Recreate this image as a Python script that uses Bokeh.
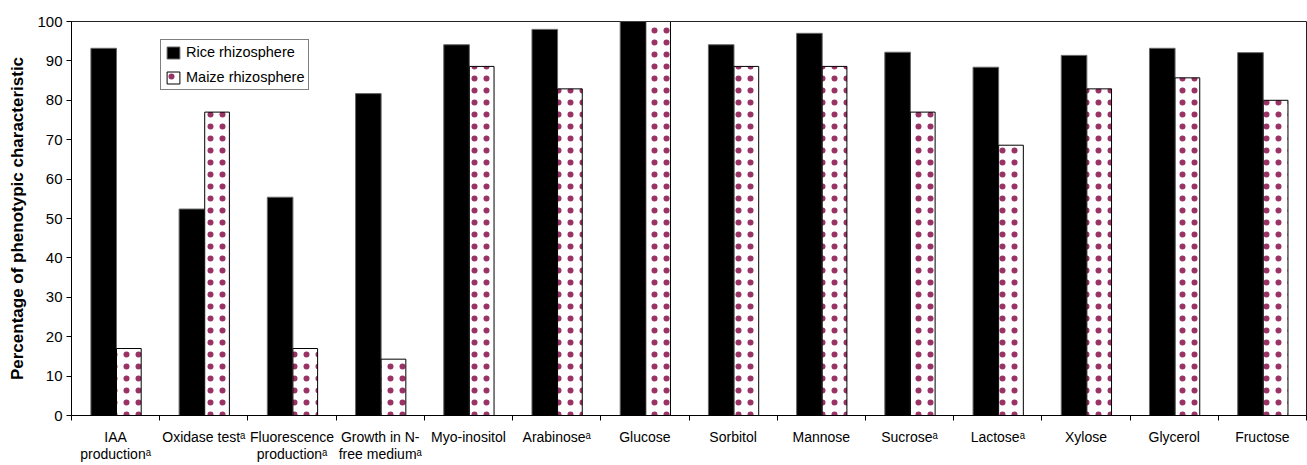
from bokeh.plotting import figure
from bokeh.models import Range1d, FixedTicker, Legend, LegendItem, ColumnDataSource
from bokeh.transform import dodge
from bokeh.embed import file_html
from bokeh.resources import INLINE

# ---- data ----
categories = ["IAA\nproduction", "Oxidase test", "Fluorescence\nproduction", "Growth in N-\nfree medium",
              "Myo-inositol", "Arabinose", "Glucose", "Sorbitol", "Mannose", "Sucrose", "Lactose",
              "Xylose", "Glycerol", "Fructose"]
has_sup_a = [True, True, True, True, False, True, False, False, False, True, True, False, False, False]
rice = [93.2, 52.4, 55.4, 81.7, 94.1, 98.0, 100.0, 94.1, 97.0, 92.2, 88.4, 91.4, 93.2, 92.1]
maize = [17.0, 77.0, 17.0, 14.3, 88.6, 82.9, 100.0, 88.6, 88.6, 77.0, 68.6, 82.9, 85.7, 80.0]
y_ticks = [0, 10, 20, 30, 40, 50, 60, 70, 80, 90, 100]

FONT = "Liberation Sans"
n = len(categories)
idx = list(range(n))
labels = [c + ("\u1d43" if a else "") for c, a in zip(categories, has_sup_a)]
src = ColumnDataSource(dict(x=idx, rice=rice, maize=maize))

p = figure(width=1307, height=465, x_range=Range1d(0, n), y_range=Range1d(0, 100),
           output_backend="svg", toolbar_location=None,
           min_border_left=71, min_border_right=1, min_border_top=21, min_border_bottom=50)
p.xgrid.visible = False
p.ygrid.visible = False
p.outline_line_color = "#222222"
p.outline_line_width = 1
p.background_fill_color = "white"
p.border_fill_color = "white"

r_rice = p.vbar(x=dodge("x", 0.365, range=p.x_range), top="rice", width=0.29, source=src,
                fill_color="black", line_color="#666666", line_width=1)
r_maize = p.vbar(x=dodge("x", 0.65, range=p.x_range), top="maize", width=0.28, source=src,
                 fill_color="white", line_color="black", line_width=1,
                 hatch_pattern="dot", hatch_color="#993366", hatch_scale=12, hatch_weight=1)

# y axis
ya = p.yaxis[0]
ya.ticker = FixedTicker(ticks=y_ticks)
ya.major_tick_out = 5
ya.major_tick_in = 0
ya.minor_tick_out = 0
ya.minor_tick_in = 0
ya.axis_line_color = "black"
ya.major_tick_line_color = "black"
ya.major_label_text_font = FONT
ya.major_label_text_font_size = "15px"
ya.major_label_text_color = "black"
ya.major_label_standoff = 4
ya.axis_label = "Percentage of phenotypic characteristic"
ya.axis_label_text_font = FONT
ya.axis_label_text_font_size = "17px"
ya.axis_label_text_font_style = "bold"
ya.axis_label_text_color = "black"
ya.axis_label_standoff = 7

# x axis: labels at category centres, ticks at category boundaries
xa = p.xaxis[0]
centres = [i + 0.5 for i in idx]
xa.ticker = FixedTicker(ticks=centres, minor_ticks=list(range(n + 1)))
xa.major_label_overrides = {c: lab for c, lab in zip(centres, labels)}
xa.major_tick_out = 0
xa.major_tick_in = 0
xa.minor_tick_out = 5
xa.minor_tick_in = 0
xa.minor_tick_line_color = "black"
xa.axis_line_color = "black"
xa.major_label_text_font = FONT
xa.major_label_text_font_size = "14px"
xa.major_label_text_color = "black"
xa.major_label_text_line_height = 1.1
xa.major_label_standoff = 8

legend = Legend(items=[LegendItem(label="Rice rhizosphere", renderers=[r_rice]),
                       LegendItem(label="Maize rhizosphere", renderers=[r_maize])],
                location=(89, 325))
legend.border_line_color = "black"
legend.border_line_width = 1
legend.background_fill_color = "white"
legend.background_fill_alpha = 1
legend.padding = 4
legend.spacing = 9
legend.margin = 0
legend.glyph_height = 15
legend.glyph_width = 16
legend.label_height = 15
legend.label_standoff = 5
legend.label_text_font = FONT
legend.label_text_font_size = "14.5px"
legend.label_text_color = "black"
p.add_layout(legend)

open("out.html", "w").write(file_html(p, INLINE))
